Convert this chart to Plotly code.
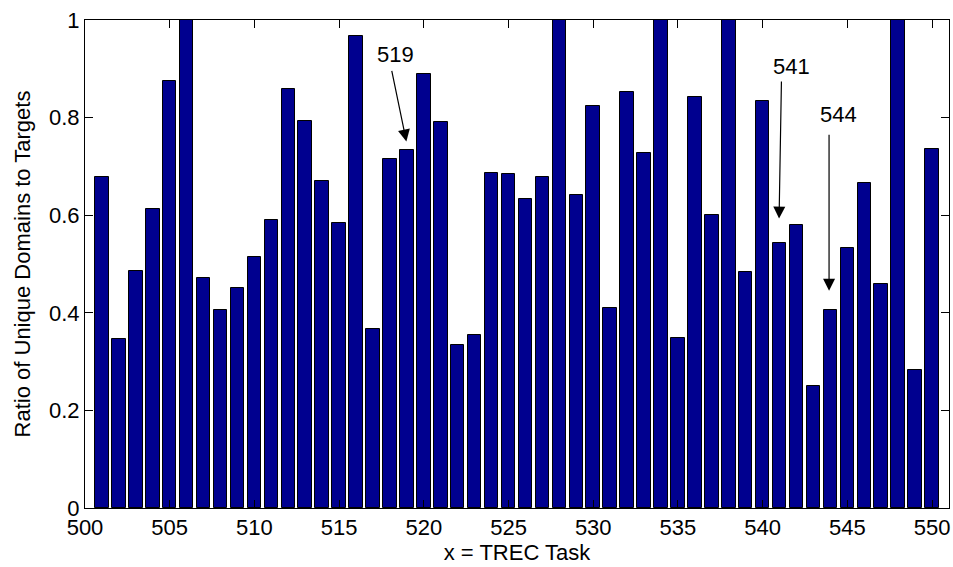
import plotly.graph_objects as go

tasks = list(range(501, 551))
ratios = [0.678, 0.347, 0.486, 0.613, 0.876, 1.0, 0.471, 0.406, 0.451, 0.514,
          0.590, 0.858, 0.794, 0.671, 0.585, 0.967, 0.367, 0.715, 0.733, 0.890,
          0.790, 0.334, 0.355, 0.686, 0.684, 0.633, 0.678, 1.0, 0.642, 0.823,
          0.409, 0.853, 0.728, 1.0, 0.349, 0.843, 0.600, 1.0, 0.484, 0.834,
          0.543, 0.580, 0.250, 0.406, 0.532, 0.667, 0.459, 1.0, 0.282, 0.735]

x_ticks = [500, 505, 510, 515, 520, 525, 530, 535, 540, 545, 550]
y_ticks = [0, 0.2, 0.4, 0.6, 0.8, 1]
y_tick_labels = ["0", "0.2", "0.4", "0.6", "0.8", "1"]

# callouts: label, text position, arrow tail, arrow tip (data units)
callout_labels = ["519", "541", "544"]
callout_text_xy = [(518.31, 0.929), (541.70, 0.905), (544.45, 0.807)]
callout_tail_xy = [(518.09, 0.899), (541.11, 0.877), (543.92, 0.768)]
callout_tip_xy = [(518.97, 0.751), (540.97, 0.593), (543.92, 0.445)]

FONT = "Liberation Sans, Arial, sans-serif"
FS = 22

fig = go.Figure()
fig.add_trace(go.Bar(
    x=tasks, y=ratios, width=0.8,
    marker=dict(color="#00008F", line=dict(color="black", width=1)),
))

annotations = []
for lab, (tx, ty), (ax, ay), (hx, hy) in zip(callout_labels, callout_text_xy,
                                              callout_tail_xy, callout_tip_xy):
    annotations.append(dict(x=tx, y=ty, xref="x", yref="y", text=lab,
                            showarrow=False, font=dict(family=FONT, size=FS, color="black")))
    annotations.append(dict(x=hx, y=hy, xref="x", yref="y", ax=ax, ay=ay,
                            axref="x", ayref="y", text="", showarrow=True,
                            arrowhead=2, arrowsize=2.0, arrowwidth=1.2,
                            arrowcolor="black"))

fig.update_layout(
    width=953, height=567,
    margin=dict(l=85, r=4, t=20, b=59),
    plot_bgcolor="white", paper_bgcolor="white",
    font=dict(family=FONT, size=FS, color="black"),
    showlegend=False,
    bargap=0,
    annotations=annotations,
    xaxis=dict(
        range=[500, 551], tickmode="array", tickvals=x_ticks,
        ticktext=[str(v) for v in x_ticks],
        ticks="inside", ticklen=8, tickcolor="black", tickwidth=1,
        showline=True, linecolor="black", linewidth=1, mirror="ticks",
        showgrid=False, zeroline=False,
        title=dict(text="x = TREC Task", standoff=4, font=dict(size=FS)),
        tickfont=dict(size=FS),
    ),
    yaxis=dict(
        range=[0, 1], tickmode="array", tickvals=y_ticks, ticktext=y_tick_labels,
        ticks="inside", ticklen=8, tickcolor="black", tickwidth=1,
        showline=True, linecolor="black", linewidth=1, mirror="ticks",
        showgrid=False, zeroline=False,
        title=dict(text="Ratio of Unique Domains to Targets", standoff=12, font=dict(size=FS)),
        tickfont=dict(size=FS),
    ),
)

fig.write_html("out.html")
